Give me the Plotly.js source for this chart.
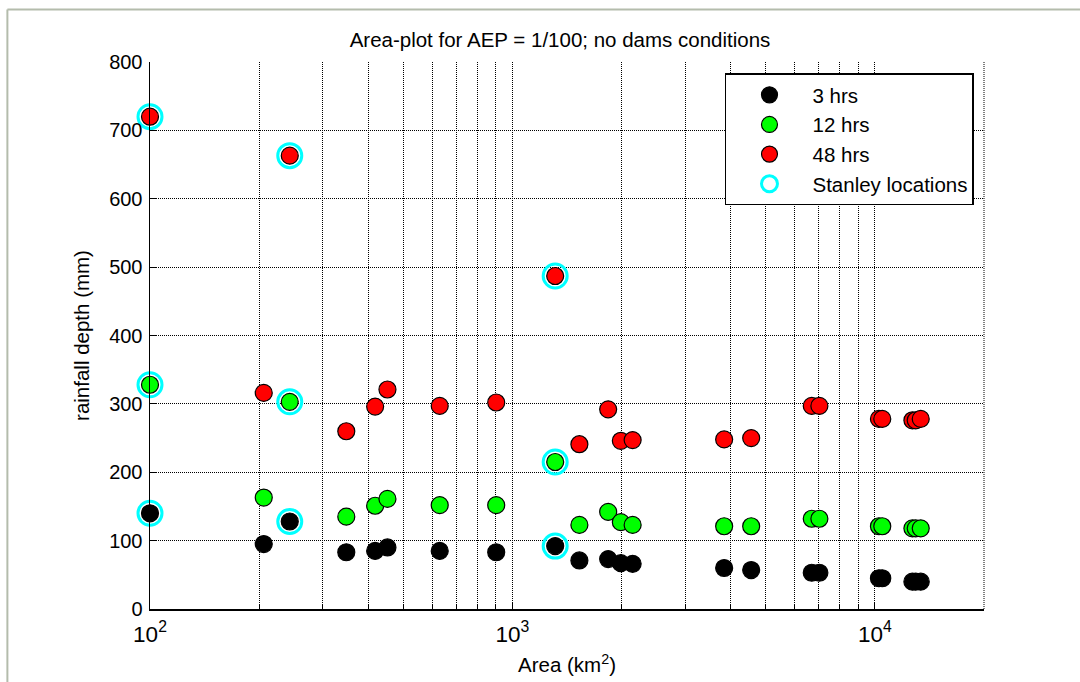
<!DOCTYPE html>
<html>
<head>
<meta charset="utf-8">
<script src="https://cdn.plot.ly/plotly-3.0.1.min.js"></script>
<style>
  html, body { margin: 0; padding: 0; background: #ffffff; }
  #chart { width: 1080px; height: 682px; }
</style>
</head>
<body>
<div id="chart"></div>
<script>
// Catchment areas (km2) and rainfall depths (mm) for each storm duration
const areas = [100, 206, 243, 348, 418, 452, 630, 902, 1312, 1530, 1837, 1991, 2146,
               3838, 4557, 6696, 7028, 10260, 10480, 12690, 12960, 13380];
const depth3h  = [140, 95, 128, 83, 85, 90, 85, 83, 92, 71, 73, 67, 66,
                  60, 57, 53, 53, 45, 45, 40, 40, 40];
const depth12h = [328, 163, 303, 135, 151, 161, 152, 152, 215, 123, 142, 127, 123,
                  121, 121, 132, 132, 121, 121, 118, 118, 118];
const depth48h = [720, 316, 663, 260, 296, 321, 297, 302, 487, 241, 292, 246, 247,
                  248, 250, 297, 297, 278, 278, 276, 276, 278];
// Entries (indices into areas) that correspond to Stanley locations
const stanleyIdx = [0, 2, 8];

const seriesNames = ['3 hrs', '12 hrs', '48 hrs'];
const stanleyName = 'Stanley locations';
const titleText = 'Area-plot for AEP = 1/100; no dams conditions';
const xTitle = 'Area (km<sup>2</sup>)';
const yTitle = 'rainfall depth (mm)';
const yTicks = [0, 100, 200, 300, 400, 500, 600, 700, 800];

const FONT = 'Liberation Sans, Arial, Helvetica, sans-serif';
const FS_TEXT = 20.5;
const FS_TICK = 20;
const FS_XTICK = 18;

const allSeries = [depth3h, depth12h, depth48h];
const fills = ['#000000', '#00ff00', '#ff0000'];

const traces = allSeries.map((vals, k) => ({
  type: 'scatter',
  mode: 'markers',
  name: seriesNames[k],
  legendgroup: 'g' + k,
  x: areas,
  y: vals,
  cliponaxis: false,
  marker: { symbol: 'circle', size: 17, color: fills[k],
            line: { color: '#000000', width: 1.2 } },
  hoverinfo: 'x+y'
}));

// Stanley locations: every series at the listed catchments
const stX = [], stY = [];
allSeries.forEach(vals => stanleyIdx.forEach(i => { stX.push(areas[i]); stY.push(vals[i]); }));
traces.push({
  type: 'scatter',
  mode: 'markers',
  name: stanleyName,
  legendgroup: 'g3',
  x: stX,
  y: stY,
  cliponaxis: false,
  marker: { symbol: 'circle-open', size: 24, color: '#00ffff',
            line: { color: '#00ffff', width: 3 } },
  hoverinfo: 'x+y'
});

const gridDash = '1px,1px';

const layout = {
  width: 1080,
  height: 682,
  paper_bgcolor: '#ffffff',
  plot_bgcolor: '#ffffff',
  font: { family: FONT, size: FS_TEXT, color: '#000000' },
  margin: { l: 150, r: 96, t: 62, b: 73, pad: 0 },
  title: {
    text: titleText,
    font: { family: FONT, size: FS_TEXT, color: '#000000' },
    x: 0.5185, xanchor: 'center', xref: 'container',
    y: 0.941, yanchor: 'middle', yref: 'container'
  },
  xaxis: {
    type: 'log',
    range: [2, Math.log10(20000)],
    dtick: 1,
    exponentformat: 'power',
    ticks: 'inside',
    ticklen: 7,
    tickcolor: '#000000',
    ticklabelstandoff: 5,
    showline: true,
    linecolor: '#000000',
    linewidth: 1.5,
    mirror: false,
    showgrid: true,
    gridcolor: '#000000',
    gridwidth: 1,
    griddash: gridDash,
    zeroline: false,
    minor: {
      dtick: 'D1',
      ticks: 'inside',
      ticklen: 5,
      tickcolor: '#000000',
      showgrid: true,
      gridcolor: '#000000',
      gridwidth: 1,
      griddash: gridDash
    },
    tickfont: { family: FONT, size: FS_XTICK, color: '#000000' },
    title: { text: xTitle, font: { family: FONT, size: FS_TEXT, color: '#000000' }, standoff: 12 },
    automargin: false,
    fixedrange: true
  },
  yaxis: {
    range: [0, 800],
    tickvals: yTicks,
    ticks: 'inside',
    ticklen: 7,
    tickcolor: '#000000',
    ticklabelstandoff: 2,
    showline: true,
    linecolor: '#000000',
    linewidth: 1.5,
    mirror: false,
    showgrid: true,
    gridcolor: '#000000',
    gridwidth: 1,
    griddash: gridDash,
    zeroline: false,
    tickfont: { family: FONT, size: FS_TICK, color: '#000000' },
    title: { text: yTitle, font: { family: FONT, size: FS_TEXT, color: '#000000' }, standoff: 14 },
    automargin: false,
    fixedrange: true
  },
  legend: {
    x: 0.988, xanchor: 'right', xref: 'paper',
    y: 0.979, yanchor: 'top', yref: 'paper',
    bgcolor: '#ffffff',
    bordercolor: '#000000',
    borderwidth: 1.5,
    font: { family: FONT, size: FS_TEXT, color: '#000000' },
    itemwidth: 76,
    tracegroupgap: 3,
    traceorder: 'normal'
  },
  showlegend: true,
  shapes: [
    // dotted right-hand border of the axes box
    { type: 'line', xref: 'paper', yref: 'paper', x0: 1, x1: 1, y0: 0, y1: 1,
      line: { color: '#000000', width: 1, dash: gridDash }, layer: 'below' },
    // window frame edges
    { type: 'line', xref: 'paper', yref: 'paper', x0: -0.171, x1: 1.2, y0: 1.096, y1: 1.096,
      line: { color: '#b4bcac', width: 2 }, layer: 'above' },
    { type: 'line', xref: 'paper', yref: 'paper', x0: -0.171, x1: -0.171, y0: 1.096, y1: -0.2,
      line: { color: '#b4bcac', width: 2 }, layer: 'above' }
  ]
};

Plotly.newPlot('chart', traces, layout, { displayModeBar: false, staticPlot: true });
</script>
</body>
</html>
